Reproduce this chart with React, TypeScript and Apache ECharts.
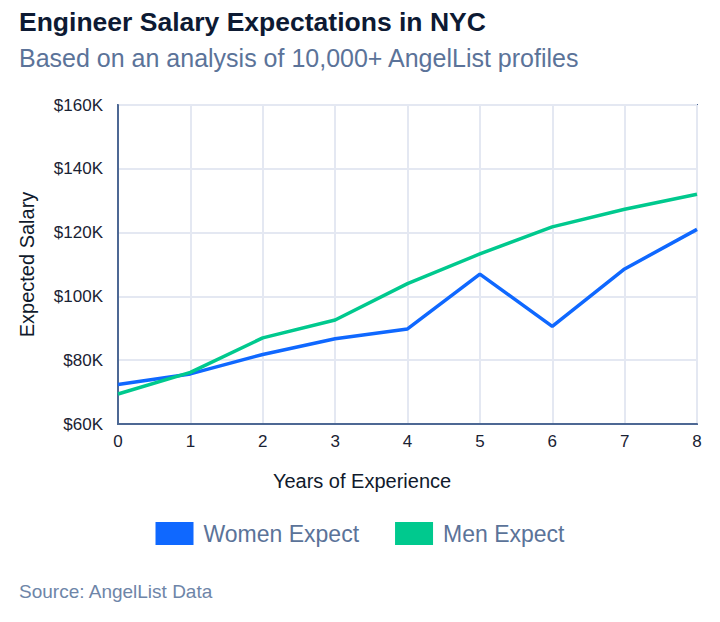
import { useEffect, useRef } from 'react';
import * as echarts from 'echarts';

const years = [0, 1, 2, 3, 4, 5, 6, 7, 8];
const womenExpect = [72.4, 75.7, 81.8, 86.7, 89.8, 107, 90.6, 108.6, 121];
const menExpect = [69.4, 76.2, 87, 92.6, 104, 113.3, 121.8, 127.3, 132];

const FONT = '"Liberation Sans", Arial, Helvetica, sans-serif';
const BLUE = '#0f68ff';
const GREEN = '#00c98e';

const App: React.FC = () => {
  const chartRef = useRef<HTMLDivElement>(null);

  useEffect(() => {
    document.body.style.margin = '0';
    if (!chartRef.current) return;
    const chart = echarts.init(chartRef.current, undefined, { renderer: 'svg' });

    const option = {
      animation: false,
      textStyle: { fontFamily: FONT },
      title: {
        text: 'Engineer Salary Expectations in NYC',
        subtext: 'Based on an analysis of 10,000+ AngelList profiles',
        left: 19,
        top: 8,
        padding: 0,
        itemGap: 10,
        textStyle: { fontSize: 26.5, fontWeight: 'bold', color: '#0d1a33', fontFamily: FONT },
        subtextStyle: { fontSize: 25, color: '#5b7399', fontFamily: FONT },
      },
      legend: {
        top: 522,
        left: 'center',
        padding: 0,
        itemWidth: 38,
        itemHeight: 23,
        itemGap: 36,
        icon: 'rect',
        textStyle: { fontSize: 23, color: '#5b7399', fontFamily: FONT, padding: [6, 0, 0, 5] },
        data: ['Women Expect', 'Men Expect'],
      },
      grid: {
        left: 118,
        right: 23,
        top: 105,
        bottom: 198,
        show: true,
        borderColor: '#4d6894',
        borderWidth: 2,
      },
      xAxis: {
        type: 'value',
        min: 0,
        max: 8,
        interval: 1,
        name: 'Years of Experience',
        nameLocation: 'middle',
        nameGap: 47,
        nameTextStyle: {
          fontSize: 20,
          color: '#101a2c',
          fontFamily: FONT,
          padding: [0, 91, 0, 0],
        },
        axisLine: { show: true, lineStyle: { color: '#4d6894', width: 2 } },
        axisTick: { show: false },
        axisLabel: { fontSize: 17, color: '#1a2233', margin: 9, fontFamily: FONT },
        splitLine: { show: true, lineStyle: { color: '#e4e8f2', width: 2 } },
      },
      yAxis: {
        type: 'value',
        min: 60,
        max: 160,
        interval: 20,
        name: 'Expected Salary',
        nameLocation: 'middle',
        nameGap: 81,
        nameTextStyle: { fontSize: 20, color: '#101a2c', fontFamily: FONT },
        axisLine: { show: true, lineStyle: { color: '#4d6894', width: 2 } },
        axisTick: { show: false },
        axisLabel: {
          fontSize: 17,
          color: '#1a2233',
          margin: 15,
          fontFamily: FONT,
          formatter: (v: number) => `$${v}K`,
        },
        splitLine: { show: true, lineStyle: { color: '#e4e8f2', width: 2 } },
      },
      series: [
        {
          name: 'Women Expect',
          type: 'line',
          data: years.map((y, i) => [y, womenExpect[i]]),
          symbol: 'none',
          color: BLUE,
          lineStyle: { color: BLUE, width: 3.5 },
        },
        {
          name: 'Men Expect',
          type: 'line',
          data: years.map((y, i) => [y, menExpect[i]]),
          symbol: 'none',
          color: GREEN,
          lineStyle: { color: GREEN, width: 3.5 },
        },
      ],
      graphic: [
        {
          type: 'text',
          left: 19,
          top: 582,
          style: {
            text: 'Source: AngelList Data',
            fontSize: 19,
            fill: '#6e85a8',
            fontFamily: FONT,
          },
        },
      ],
    };

    chart.setOption(option);
    return () => {
      chart.dispose();
    };
  }, []);

  return <div ref={chartRef} style={{ width: '720px', height: '622px' }} />;
};

export default App;
